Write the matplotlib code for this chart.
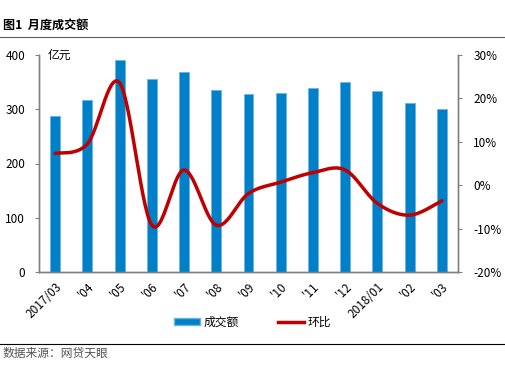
import numpy as np
import matplotlib.pyplot as plt
from matplotlib.lines import Line2D
from matplotlib.patches import Patch

plt.rcParams['font.family'] = ['Noto Sans CJK SC', 'DejaVu Sans']

# data
months = ['2017/03', "'04", "'05", "'06", "'07", "'08", "'09", "'10", "'11", "'12",
          '2018/01', "'02", "'03"]
volume = [287, 317, 391, 355, 368, 335, 329, 330, 339, 350, 333, 311, 300]   # 亿元
mom = [7.3, 9.5, 23.6, -9.2, 3.5, -9.2, -1.9, 0.7, 2.9, 3.5, -4.2, -6.9, -3.6]  # %

bar_color = '#0080C8'
line_color = '#C00000'
axis_color = '#808080'


# Excel-style smoothed line: cubic bezier through the points
def smooth(xs, ys, n=30):
    xs = np.asarray(xs, float)
    ys = np.asarray(ys, float)
    px = np.concatenate([[xs[0]], xs, [xs[-1]]])
    py = np.concatenate([[ys[0]], ys, [ys[-1]]])
    out_x, out_y = [], []
    t = np.linspace(0, 1, n)
    for i in range(1, len(px) - 2):
        p0 = np.array([px[i], py[i]])
        p3 = np.array([px[i + 1], py[i + 1]])
        c1 = p0 + (np.array([px[i + 1], py[i + 1]]) - np.array([px[i - 1], py[i - 1]])) / 6
        c2 = p3 - (np.array([px[i + 2], py[i + 2]]) - np.array([px[i], py[i]])) / 6
        b = ((1 - t) ** 3)[:, None] * p0 + (3 * (1 - t) ** 2 * t)[:, None] * c1 \
            + (3 * (1 - t) * t ** 2)[:, None] * c2 + (t ** 3)[:, None] * p3
        out_x.extend(b[:, 0])
        out_y.extend(b[:, 1])
    return np.array(out_x), np.array(out_y)


fig = plt.figure(figsize=(5.05, 3.65), dpi=100)
ax = fig.add_axes([39 / 505, 1 - 272 / 365, 419 / 505, 217 / 365])
ax2 = ax.twinx()

x = np.arange(len(months))
ax.bar(x, volume, width=0.31, color=bar_color, edgecolor='#6BB4E0', linewidth=0.6, zorder=2)
ax.set_xlim(-0.5, len(months) - 0.5)
ax.set_ylim(0, 400)
ax.set_yticks([0, 100, 200, 300, 400])
ax.set_xticks(x)
ax.set_xticklabels(months, rotation=45, ha='right', rotation_mode='anchor', fontsize=8.5)
ax.tick_params(axis='x', length=0, pad=6)
ax.tick_params(axis='y', direction='out', length=3, color=axis_color, labelsize=8.5, pad=7)

sx, sy = smooth(x, mom)
ax2.plot(sx, sy, color=line_color, linewidth=2.5, solid_capstyle='round', zorder=3)
ax2.set_ylim(-20, 30)
ax2.set_yticks([-20, -10, 0, 10, 20, 30])
ax2.set_yticklabels([f'{v}%' for v in [-20, -10, 0, 10, 20, 30]])
ax2.tick_params(axis='y', direction='out', length=3, color=axis_color, labelsize=8.5, pad=8)

for a in (ax, ax2):
    a.spines['top'].set_visible(False)
    for s in ('left', 'right', 'bottom'):
        a.spines[s].set_color(axis_color)
        a.spines[s].set_linewidth(1.0)

ax.text(0.02, 1.0, '亿元', transform=ax.transAxes, fontsize=8.5, va='center', ha='left')

# title and frame lines
fig.text(3 / 505, 1 - 25 / 365, '图1  月度成交额', fontsize=8.7, fontweight='bold', va='center')
fig.add_artist(Line2D([0, 1], [1 - 37 / 365, 1 - 37 / 365], color='#606060', lw=0.8))
fig.add_artist(Line2D([0, 1], [1 - 344 / 365, 1 - 344 / 365], color='black', lw=0.8))
fig.text(3 / 505, 1 - 353 / 365, '数据来源：网贷天眼', fontsize=8.5, color='#555555', va='center')

handles = [Patch(facecolor=bar_color, edgecolor='#6BB4E0'),
           Line2D([0], [0], color=line_color, lw=2.5)]
fig.legend(handles, ['成交额', '环比'], loc='center', bbox_to_anchor=(0.5, 1 - 322 / 365),
           ncol=2, frameon=False, fontsize=8.5, handlelength=2.2, handleheight=0.5,
           columnspacing=3.4, handletextpad=0.3)

fig.savefig('out.png', dpi=100)
